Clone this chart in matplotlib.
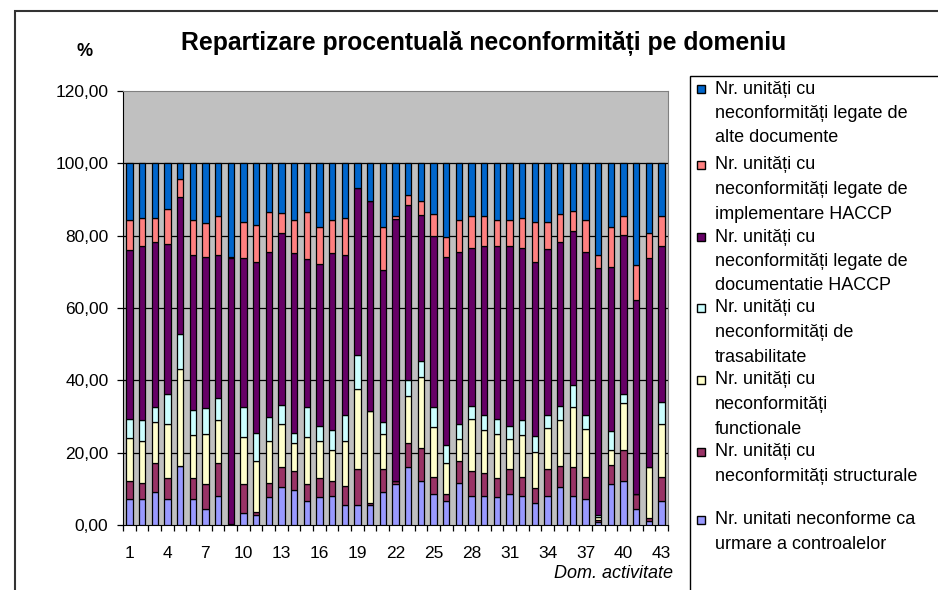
import matplotlib.pyplot as plt
from matplotlib.patches import Rectangle
import numpy as np

plt.rcParams['font.family'] = ['Liberation Sans', 'DejaVu Sans']

# domenii de activitate 1..43
domenii = list(range(1, 44))

# valori procentuale (de jos in sus)
controale = [7.1, 7.1, 9.2, 7.1, 16.4, 7.1, 4.4, 8.1, 0.2, 3.4, 2.8, 7.7, 10.4, 9.7, 6.7,
             7.7, 8.1, 5.5, 5.5, 5.5, 9.1, 11.3, 15.9, 12.2, 8.6, 6.7, 11.7, 7.9, 8.1, 7.7,
             8.5, 8.0, 6.0, 8.1, 10.4, 7.9, 7.1, 0.7, 11.3, 12.2, 4.4, 1.2, 6.7]
structurale = [5.2, 4.6, 7.9, 5.8, 0.0, 5.8, 6.9, 9.0, 0.0, 7.9, 0.7, 4.0, 5.6, 5.3, 4.6,
               5.2, 4.1, 5.3, 10.0, 0.7, 6.4, 1.0, 6.7, 9.1, 4.8, 1.8, 5.9, 6.9, 6.2, 5.2,
               6.9, 5.4, 4.2, 7.3, 5.8, 8.0, 6.3, 0.7, 5.2, 8.4, 4.2, 0.8, 6.7]
functionale = [11.7, 11.6, 11.4, 15.0, 26.6, 11.9, 13.9, 11.8, 0.0, 12.9, 14.1, 11.6, 11.9, 7.8, 12.9,
               10.4, 8.6, 12.5, 22.2, 25.2, 9.7, 0.0, 13.0, 19.6, 13.6, 8.6, 6.2, 14.6, 12.0, 12.3,
               8.4, 11.4, 9.9, 11.4, 12.7, 16.6, 13.1, 0.9, 4.1, 13.1, 0.0, 14.0, 14.5]
trasabilitate = [5.4, 5.6, 4.0, 8.3, 9.7, 7.1, 7.1, 6.2, 0.0, 8.3, 7.8, 6.6, 5.2, 2.6, 8.3,
                 4.0, 5.5, 7.2, 9.2, 0.0, 3.2, 0.0, 4.6, 4.4, 5.5, 5.1, 4.1, 3.6, 4.2, 4.1,
                 3.5, 4.1, 4.6, 3.7, 4.1, 6.3, 4.0, 0.5, 5.3, 2.5, 0.0, 0.0, 6.1]
documentatie = [46.7, 48.3, 45.8, 41.6, 37.9, 42.8, 41.8, 39.6, 73.7, 41.2, 47.2, 45.7, 47.6, 49.7, 41.0,
                44.8, 48.8, 44.1, 46.4, 58.2, 42.0, 72.4, 48.2, 40.4, 47.4, 51.9, 47.7, 43.7, 46.7, 47.9,
                49.9, 47.8, 47.9, 45.7, 45.3, 42.5, 45.1, 68.2, 45.5, 44.0, 53.6, 57.9, 43.2]
implementare = [8.3, 7.8, 6.7, 9.7, 5.2, 9.7, 9.3, 10.8, 0.3, 10.1, 10.3, 11.0, 5.7, 9.3, 13.1,
                10.3, 9.3, 10.4, 0.0, 0.0, 12.0, 0.8, 2.8, 3.9, 6.1, 5.6, 8.8, 8.8, 8.3, 7.2,
                7.2, 8.3, 11.2, 7.6, 7.7, 5.6, 8.8, 3.6, 11.0, 5.3, 9.7, 6.8, 8.3]
alte_doc = [15.6, 15.0, 15.0, 12.5, 4.2, 15.6, 16.6, 14.5, 25.8, 16.2, 17.1, 13.4, 13.6, 15.6, 13.4,
            17.6, 15.6, 15.0, 6.7, 10.4, 17.6, 14.5, 8.8, 10.4, 14.0, 20.3, 15.6, 14.5, 14.5, 15.6,
            15.6, 15.0, 16.2, 16.2, 14.0, 13.1, 15.6, 25.4, 17.6, 14.5, 28.1, 19.3, 14.5]

serii = [controale, structurale, functionale, trasabilitate, documentatie, implementare, alte_doc]
culori = ['#9999FF', '#993366', '#FFFFCC', '#CCFFFF', '#660066', '#FF8080', '#0066CC']

W, H = 938, 590
fig = plt.figure(figsize=(W / 100, H / 100), dpi=100)


def fx(x):
    return x / W


def fy(y):
    return 1 - y / H


# chenarul graficului
fig.patches.append(Rectangle((fx(15), fy(1000)), 2, fy(11) - fy(1000), transform=fig.transFigure,
                             fill=False, edgecolor='#333333', linewidth=1.5))

ax = fig.add_axes([fx(123), fy(525), fx(668) - fx(123), fy(91) - fy(525)])
ax.set_facecolor('#C0C0C0')

x = np.array(domenii)
jos = np.zeros(len(domenii))
for vals, c in zip(serii, culori):
    ax.bar(x, vals, bottom=jos, width=0.5, color=c, edgecolor='black', linewidth=0.9, zorder=3)
    jos += np.array(vals)

ax.set_xlim(0.5, 43.5)
ax.set_ylim(0, 120)
ax.set_yticks(np.arange(0, 121, 20))
ax.set_yticklabels([f'{v:.2f}'.replace('.', ',') for v in range(0, 121, 20)], fontsize=12.5)
for v in range(20, 101, 20):
    ax.axhline(v, color='black', linewidth=0.9, zorder=1)

ax.set_xticks(np.arange(0.5, 44, 1))
ax.set_xticklabels([])
ax.set_xticks(domenii[::3], minor=True)
ax.set_xticklabels([str(d) for d in domenii[::3]], minor=True, fontsize=12.5)
ax.tick_params(axis='x', which='major', direction='out', length=4, width=0.9)
ax.tick_params(axis='x', which='minor', length=0, pad=15)
ax.tick_params(axis='y', direction='out', length=4, width=0.9, pad=6.5)

for s in ['top', 'right']:
    ax.spines[s].set_color('#808080')
for s in ['left', 'bottom']:
    ax.spines[s].set_color('black')

fig.text(fx(484), fy(43), 'Repartizare procentuală neconformități pe domeniu',
         ha='center', va='center', fontsize=17.8, fontweight='bold')
fig.text(fx(85), fy(51), '%', ha='center', va='center', fontsize=13, fontweight='bold')
fig.text(fx(673), fy(574), 'Dom. activitate', ha='right', va='center', fontsize=13, style='italic')

# legenda
fig.patches.append(Rectangle((fx(690), fy(1000)), 2, fy(76) - fy(1000), transform=fig.transFigure,
                             fill=False, edgecolor='black', linewidth=1))
etichete = [
    ['Nr. unități cu', 'neconformități legate de', 'alte documente'],
    ['Nr. unități cu', 'neconformități legate de', 'implementare HACCP'],
    ['Nr. unități cu', 'neconformități legate de', 'documentatie HACCP'],
    ['Nr. unități cu', 'neconformități de', 'trasabilitate'],
    ['Nr. unități cu', 'neconformități', 'functionale'],
    ['Nr. unități cu', 'neconformități structurale'],
    ['Nr. unitati neconforme ca', 'urmare a controalelor'],
]
start_y = [89, 165, 237, 308, 380, 452, 520]
leg_cul = culori[::-1]
for lines, y0, c in zip(etichete, start_y, leg_cul):
    fig.patches.append(Rectangle((fx(697), fy(y0 + 4)), fx(8), fy(y0 - 4) - fy(y0 + 4),
                                 transform=fig.transFigure, facecolor=c,
                                 edgecolor='black', linewidth=1))
    for i, t in enumerate(lines):
        fig.text(fx(715), fy(y0 + i * 24.5), t, ha='left', va='center', fontsize=13)

fig.savefig('out.png', dpi=100)
